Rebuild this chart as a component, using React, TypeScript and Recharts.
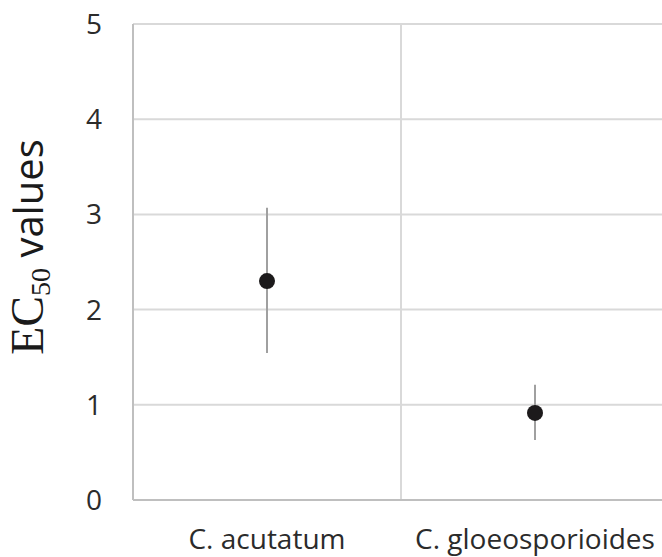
import {
  ComposedChart,
  Scatter,
  ErrorBar,
  XAxis,
  YAxis,
  CartesianGrid,
} from "recharts";

const categories = ["C. acutatum", "C. gloeosporioides"];
const ec50 = [2.3, 0.915];
const errLow = [0.755, 0.285];
const errHigh = [0.77, 0.295];
const yTicks = [0, 1, 2, 3, 4, 5];

const data = categories.map((name, i) => ({
  name,
  value: ec50[i],
  err: [errLow[i], errHigh[i]],
}));

const tickFont = { fill: "#2b2b2b", fontSize: 28, fontFamily: "'Open Sans', sans-serif" };

function YLabel(props: any) {
  const vb = props.viewBox || { x: 0, y: 0, width: 0, height: 0 };
  const x = vb.x + 43;
  const y = vb.y + vb.height / 2 - 15;
  return (
    <text
      x={x}
      y={y}
      textAnchor="middle"
      transform={`rotate(-90, ${x}, ${y})`}
      fill="#1a1a1a"
    >
      <tspan fontFamily="'Liberation Serif', serif" fontSize={46}>EC</tspan>
      <tspan fontFamily="'Liberation Serif', serif" fontSize={28} dy={7}>50</tspan>
      <tspan fontFamily="'Open Sans', sans-serif" fontSize={40} dy={-7}> values</tspan>
    </text>
  );
}

export default function App() {
  return (
    <div style={{ position: "absolute", left: 0, top: 0, width: 662, height: 557, overflow: "hidden", background: "#fff" }}>
      <ComposedChart
        width={670}
        height={557}
        data={data}
        margin={{ top: 24, right: 1, left: 0, bottom: 7 }}
      >
        {/* grid: vertical lines on the category borders */}
        <CartesianGrid
          stroke="#d9d9d9"
          strokeWidth={2}
          verticalCoordinatesGenerator={({ offset }: any) => [
            offset.left + offset.width / 2,
            offset.left + offset.width,
          ]}
        />
        <XAxis
          dataKey="name"
          type="category"
          scale="band"
          axisLine={{ stroke: "#bfbfbf", strokeWidth: 2 }}
          tickLine={false}
          tickSize={6}
          tickMargin={23}
          height={50}
          tick={tickFont}
          interval={0}
        />
        <YAxis
          type="number"
          domain={[0, 5]}
          ticks={yTicks}
          width={133}
          axisLine={{ stroke: "#bfbfbf", strokeWidth: 2 }}
          tickLine={false}
          tickSize={6}
          tickMargin={25}
          tick={tickFont}
          label={<YLabel />}
        />
        <Scatter
          dataKey="value"
          fill="#1c1a1b"
          isAnimationActive={false}
          shape={(p: any) => <circle cx={p.cx} cy={p.cy} r={8} fill="#1c1a1b" />}
        >
          <ErrorBar dataKey="err" direction="y" width={0} stroke="#a0a0a0" strokeWidth={2} />
        </Scatter>
      </ComposedChart>
    </div>
  );
}
